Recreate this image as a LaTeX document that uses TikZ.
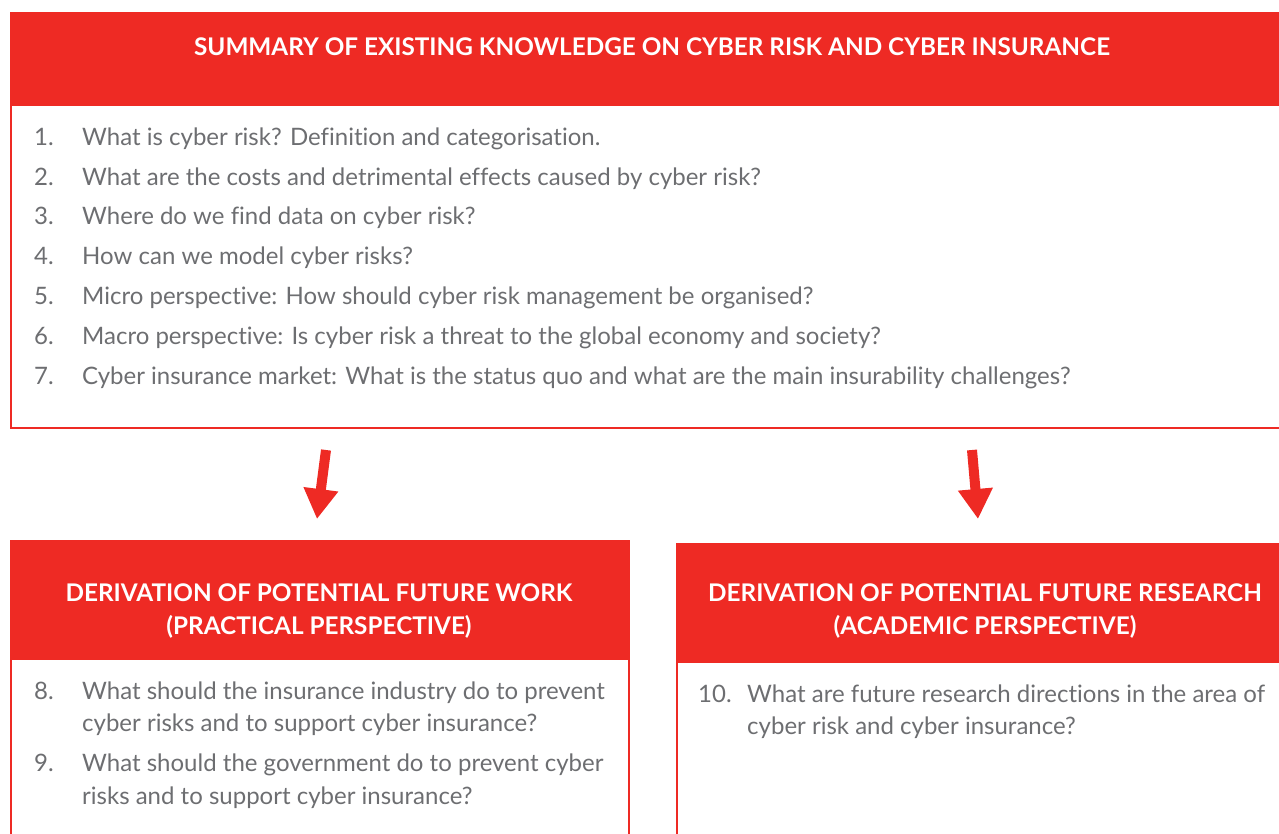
\documentclass[tikz,border=0pt]{standalone}
\usepackage{fontspec}
\setmainfont[Ligatures={NoCommon}]{Lato}
\usetikzlibrary{arrows.meta}
\definecolor{cred}{HTML}{EE2A24}
\definecolor{cgrey}{HTML}{6D6E71}
\begin{document}
\begin{tikzpicture}[x=1pt,y=-1pt,
  frame/.style={draw=cred, line width=2pt, inner sep=0pt, anchor=north west},
  headbox/.style={fill=cred, draw=cred, line width=2pt, inner sep=0pt, anchor=north west},
  htext/.style={text=white, font=\fontsize{24.3}{28}\selectfont\bfseries, inner sep=0pt, anchor=base},
  btext/.style={text=cgrey, font=\fontsize{24}{28}\selectfont, inner sep=0pt, anchor=base west},
  bigarrow/.style={draw=cred, line width=10pt, -{Triangle[length=30pt,width=33pt]}}]
\useasboundingbox (0,0) rectangle (1279,834);
\clip (0,0) rectangle (1279,834);
% top box
\node[frame, minimum width=1290pt, minimum height=415pt] (top) at (10,12) {};
\node[headbox, minimum width=1290pt, minimum height=92pt] (tophead) at (10,12) {};
\node[htext] (toptitle) at (652,56) {SUMMARY OF EXISTING KNOWLEDGE ON CYBER RISK AND CYBER INSURANCE};
\node[btext] (n1) at (34,146) {1.};
\node[btext] (t1) at (82,146) {What is cyber risk? Definition and categorisation.};
\node[btext] (n2) at (34,186) {2.};
\node[btext] (t2) at (82,186) {What are the costs and detrimental effects caused by cyber risk?};
\node[btext] (n3) at (34,225) {3.};
\node[btext] (t3) at (82,225) {Where do we find data on cyber risk?};
\node[btext] (n4) at (34,265) {4.};
\node[btext] (t4) at (82,265) {How can we model cyber risks?};
\node[btext] (n5) at (34,304) {5.};
\node[btext] (t5) at (82,304) {Micro perspective: How should cyber risk management be organised?};
\node[btext] (n6) at (34,344) {6.};
\node[btext] (t6) at (82,344) {Macro perspective: Is cyber risk a threat to the global economy and society?};
\node[btext] (n7) at (34,384) {7.};
\node[btext] (t7) at (82,384) {Cyber insurance market: What is the status quo and what are the main insurability challenges?};
% bottom left box
\node[frame, minimum width=618pt, minimum height=320pt] (left) at (10,540) {};
\node[headbox, minimum width=618pt, minimum height=118pt] (lefthead) at (10,540) {};
\node[htext] (lt1) at (319,601) {DERIVATION OF POTENTIAL FUTURE WORK};
\node[htext] (lt2) at (319,634) {(PRACTICAL PERSPECTIVE)};
\node[btext] (n8) at (34,699) {8.};
\node[btext] (t8a) at (82,699) {What should the insurance industry do to prevent};
\node[btext] (t8b) at (82,731) {cyber risks and to support cyber insurance?};
\node[btext] (n9) at (34,771) {9.};
\node[btext] (t9a) at (82,771) {What should the government do to prevent cyber};
\node[btext] (t9b) at (82,804) {risks and to support cyber insurance?};
% bottom right box
\node[frame, minimum width=620pt, minimum height=320pt] (right) at (676,543) {};
\node[headbox, minimum width=620pt, minimum height=118pt] (righthead) at (676,543) {};
\node[htext] (rt1) at (985,601) {DERIVATION OF POTENTIAL FUTURE RESEARCH};
\node[htext] (rt2) at (985,634) {(ACADEMIC PERSPECTIVE)};
\node[btext] (n10) at (698,702) {10.};
\node[btext] (t10a) at (747,702) {What are future research directions in the area of};
\node[btext] (t10b) at (747,734) {cyber risk and cyber insurance?};
% arrows
\coordinate (a1s) at (326,450);
\coordinate (a1e) at (317,519);
\coordinate (a2s) at (972,450);
\coordinate (a2e) at (978,519);
\draw[bigarrow] (a1s) -- (a1e);
\draw[bigarrow] (a2s) -- (a2e);
\end{tikzpicture}
\end{document}
